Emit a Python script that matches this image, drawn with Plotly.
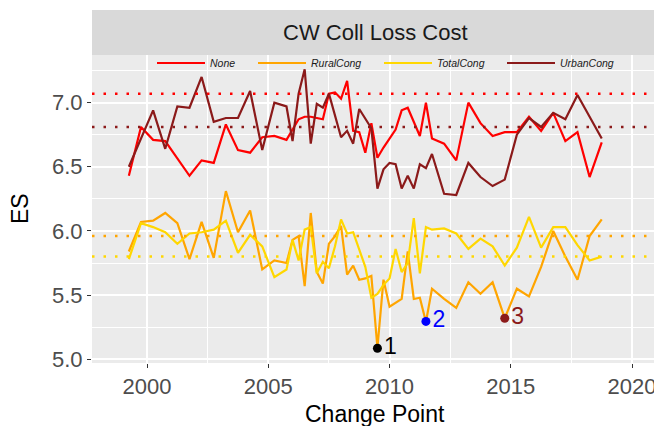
import plotly.graph_objects as go

# ---- data ----
none_x = [1999.25, 1999.75, 2000.25, 2000.75, 2001.75, 2002.25, 2002.75, 2003.25, 2003.75, 2004.25,
          2004.75, 2005.25, 2005.75, 2006.25, 2006.5, 2006.75, 2007.0, 2007.25, 2007.5, 2007.75,
          2008.0, 2008.25, 2008.5, 2008.75, 2009.0, 2009.25, 2009.5, 2009.75, 2010.25, 2010.5,
          2010.75, 2011.25, 2011.5, 2011.75, 2012.25, 2012.75, 2013.25, 2013.75, 2014.25, 2014.75,
          2015.25, 2015.75, 2016.25, 2016.75, 2017.25, 2017.75, 2018.25, 2018.75]
none_y = [6.43, 6.81, 6.71, 6.70, 6.43, 6.55, 6.53, 6.83, 6.63, 6.61,
          6.73, 6.74, 6.71, 6.87, 6.89, 6.89, 6.88, 6.87, 7.07, 7.08,
          7.03, 7.17, 6.78, 6.77, 6.61, 6.84, 6.57, 6.65, 6.79, 6.94,
          6.96, 6.74, 7.00, 6.72, 6.68, 6.55, 7.00, 6.84, 6.74, 6.77,
          6.77, 6.89, 6.78, 6.92, 6.70, 6.77, 6.42, 6.69]

urban_x = [1999.25, 2000.25, 2000.75, 2001.25, 2001.75, 2002.25, 2002.75, 2003.25, 2003.75, 2004.25,
           2004.75, 2005.25, 2005.75, 2006.0, 2006.25, 2006.5, 2006.75, 2007.0, 2007.25, 2007.5,
           2008.0, 2008.25, 2008.5, 2008.75, 2009.25, 2009.5, 2009.75, 2010.0, 2010.25, 2010.5,
           2010.75, 2011.0, 2011.25, 2011.5, 2011.75, 2012.25, 2012.75, 2013.25, 2013.75, 2014.25,
           2014.75, 2015.25, 2015.75, 2016.25, 2016.75, 2017.25, 2017.75, 2018.75]
urban_y = [6.50, 6.94, 6.64, 6.97, 6.96, 7.20, 6.85, 6.88, 6.88, 7.09,
           6.63, 7.00, 6.97, 6.70, 7.07, 7.26, 6.68, 6.99, 6.96, 7.07,
           6.73, 6.78, 6.68, 6.95, 6.80, 6.33, 6.48, 6.53, 6.52, 6.33,
           6.43, 6.33, 6.52, 6.49, 6.60, 6.29, 6.28, 6.53, 6.42, 6.35,
           6.40, 6.75, 6.88, 6.81, 6.92, 6.87, 7.06, 6.72]

rural_x = [1999.25, 1999.75, 2000.25, 2000.75, 2001.25, 2001.75, 2002.25, 2002.75, 2003.25, 2003.75,
           2004.25, 2004.75, 2005.25, 2005.75, 2006.0, 2006.25, 2006.5, 2006.75, 2007.0, 2007.25,
           2007.5, 2007.75, 2008.0, 2008.25, 2008.5, 2008.75, 2009.0, 2009.25, 2009.5, 2009.75,
           2010.0, 2010.25, 2010.5, 2010.75, 2011.0, 2011.25, 2011.5, 2011.75, 2012.25, 2012.75,
           2013.25, 2013.75, 2014.25, 2014.75, 2015.25, 2015.75, 2016.25, 2016.75, 2017.25, 2017.75,
           2018.25, 2018.75]
rural_y = [5.84, 6.07, 6.08, 6.14, 6.06, 5.78, 6.07, 5.79, 6.31, 5.99,
           6.16, 5.70, 5.77, 5.75, 5.93, 5.96, 5.57, 6.14, 5.68, 5.59,
           5.90, 5.96, 6.04, 5.66, 5.73, 5.62, 5.63, 5.65, 5.09, 5.62,
           5.41, 5.44, 5.47, 5.84, 5.47, 5.48, 5.29, 5.55, 5.47, 5.40,
           5.60, 5.51, 5.60, 5.32, 5.55, 5.49, 5.72, 6.00, 5.80, 5.62,
           5.96, 6.09]

total_x = [1999.25, 1999.75, 2000.25, 2000.75, 2001.25, 2001.75, 2002.25, 2002.75, 2003.25, 2003.75,
           2004.25, 2004.75, 2005.25, 2005.75, 2006.0, 2006.25, 2006.5, 2006.75, 2007.0, 2007.25,
           2007.5, 2007.75, 2008.0, 2008.25, 2008.5, 2008.75, 2009.0, 2009.25, 2009.5, 2009.75,
           2010.0, 2010.25, 2010.5, 2010.75, 2011.0, 2011.25, 2011.5, 2011.75, 2012.25, 2012.75,
           2013.25, 2013.75, 2014.25, 2014.75, 2015.25, 2015.75, 2016.25, 2016.75, 2017.25, 2017.75,
           2018.25, 2018.75]
total_y = [5.78, 6.06, 6.03, 5.99, 5.90, 5.98, 5.99, 6.01, 6.08, 5.83,
           5.97, 5.88, 5.64, 5.70, 5.93, 5.77, 6.01, 6.03, 5.67, 5.76,
           5.71, 5.88, 6.09, 5.98, 5.99, 5.85, 5.72, 5.48, 5.51, 5.58,
           5.63, 5.86, 5.68, 5.75, 6.10, 5.67, 6.03, 6.01, 6.02, 5.98,
           5.86, 5.94, 5.88, 5.73, 5.87, 6.11, 5.87, 6.03, 6.03, 5.89,
           5.77, 5.80]

series_names = ["None", "RuralCong", "TotalCong", "UrbanCong"]
series_colors = ["#FF0000", "#FFA500", "#FFD700", "#8B1A1A"]
ref_levels = [7.07, 5.96, 5.80, 6.81]  # dotted reference lines, same order

cp_x = [2009.5, 2011.5, 2014.75]
cp_y = [5.086, 5.295, 5.32]
cp_labels = ["1", "2", "3"]
cp_colors = ["#000000", "#0000FF", "#8B1A1A"]

x_ticks = [2000, 2005, 2010, 2015, 2020]
x_range = [1997.73, 2021.07]
y_range = [4.971, 7.371]
title_text = "CW Coll Loss Cost"

FONT = "Liberation Sans, Arial, sans-serif"
PW, PH = 566, 308  # panel size in px

fig = go.Figure()
xs = [none_x, rural_x, total_x, urban_x]
ys = [none_y, rural_y, total_y, urban_y]
legend_ids = ["legend", "legend2", "legend3", "legend4"]
for name, col, x, y, lg in zip(series_names, series_colors, xs, ys, legend_ids):
    fig.add_trace(go.Scatter(x=x, y=y, mode="lines", name=name, legend=lg,
                             line=dict(color=col, width=2.2)))

for lvl, col in zip(ref_levels, series_colors):
    fig.add_shape(type="line", xref="paper", x0=0, x1=1, yref="y", y0=lvl, y1=lvl,
                  line=dict(color=col, width=2.5, dash="2.5px,9px"), layer="above")

fig.add_trace(go.Scatter(x=cp_x, y=cp_y, mode="markers+text", text=cp_labels,
                         textposition="middle right",
                         marker=dict(color=cp_colors, size=9),
                         textfont=dict(color=cp_colors, size=23, family=FONT),
                         showlegend=False))

# facet strip
fig.add_shape(type="rect", xref="paper", yref="paper", x0=0, x1=1, y0=1, y1=1 + 45 / PH,
              fillcolor="#D9D9D9", line=dict(width=0), layer="below")
fig.add_annotation(text=title_text, xref="paper", yref="paper", x=0.5, y=1 + 23 / PH,
                   showarrow=False, font=dict(size=22, color="#1A1A1A", family=FONT),
                   xanchor="center", yanchor="middle")
fig.add_annotation(text="Change Point", xref="paper", yref="paper", x=0.5, y=-51 / PH,
                   showarrow=False, font=dict(size=23, color="#000000", family=FONT),
                   xanchor="center", yanchor="middle")
fig.add_annotation(text="ES", xref="paper", yref="paper", x=-72 / PW, y=0.5, textangle=-90,
                   showarrow=False, font=dict(size=23, color="#000000", family=FONT),
                   xanchor="center", yanchor="middle")

legend_line_start = [157, 258, 384, 507]  # page px of legend keys
legend_cfg = {}
for lg, px in zip(legend_ids, legend_line_start):
    legend_cfg[lg] = dict(orientation="h", x=(px - 5 - 92) / PW, xanchor="left",
                          y=(363 - 63) / PH, yanchor="middle", bgcolor="rgba(0,0,0,0)",
                          font=dict(size=10.5, style="italic", color="#1A1A1A", family=FONT),
                          itemwidth=48)

fig.update_layout(
    width=654, height=418,
    margin=dict(l=84, r=4, t=47, b=63),
    paper_bgcolor="white", plot_bgcolor="#EBEBEB",
    font=dict(family=FONT),
    showlegend=True,
    xaxis=dict(range=x_range, tickvals=x_ticks, showgrid=True, gridcolor="white", gridwidth=1.6,
               minor=dict(dtick=2.5, tick0=2000, showgrid=True, gridcolor="white", gridwidth=0.7),
               ticks="outside", ticklen=4, tickcolor="#333333", tickwidth=1.2,
               tickfont=dict(size=22, color="#4D4D4D"), zeroline=False, showline=False),
    yaxis=dict(range=y_range, dtick=0.5, tick0=5.0, tickformat=".1f", showgrid=True,
               gridcolor="white", gridwidth=1.6,
               minor=dict(dtick=0.25, tick0=5.0, showgrid=True, gridcolor="white", gridwidth=0.7),
               ticks="outside", ticklen=4, tickcolor="#333333", tickwidth=1.2,
               tickfont=dict(size=22, color="#4D4D4D"), zeroline=False, showline=False),
    **legend_cfg,
)

fig.write_html("out.html")
